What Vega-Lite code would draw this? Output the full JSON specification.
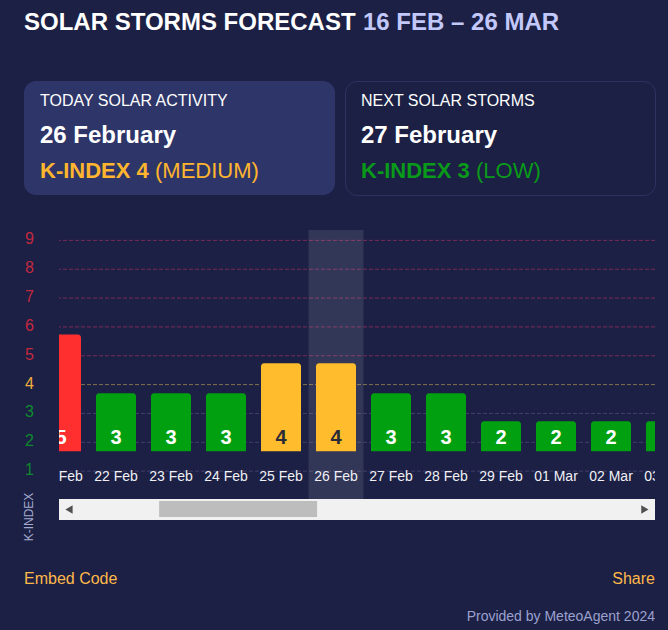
{
  "$schema": "https://vega.github.io/schema/vega-lite/v6.json",
  "background": "#1b2044",
  "padding": {"left": 23, "top": 0, "right": 13, "bottom": 0},
  "config": {
    "font": "Liberation Sans",
    "view": {"stroke": null}
  },
  "datasets": {
    "kindex": [
      {"date": "21 Feb", "k": 5, "top": 5.74},
      {"date": "22 Feb", "k": 3, "top": 3.7},
      {"date": "23 Feb", "k": 3, "top": 3.7},
      {"date": "24 Feb", "k": 3, "top": 3.7},
      {"date": "25 Feb", "k": 4, "top": 4.74},
      {"date": "26 Feb", "k": 4, "top": 4.74},
      {"date": "27 Feb", "k": 3, "top": 3.7},
      {"date": "28 Feb", "k": 3, "top": 3.7},
      {"date": "29 Feb", "k": 2, "top": 2.73},
      {"date": "01 Mar", "k": 2, "top": 2.73},
      {"date": "02 Mar", "k": 2, "top": 2.73},
      {"date": "03 Mar", "k": 2, "top": 2.73}
    ],
    "levels": [
      {"level": 1}, {"level": 2}, {"level": 3}, {"level": 4}, {"level": 5},
      {"level": 6}, {"level": 7}, {"level": 8}, {"level": 9}
    ],
    "heading": [
      {"part": "name", "text": "SOLAR STORMS FORECAST"},
      {"part": "range", "text": "16 FEB – 26 MAR"}
    ],
    "credits": [
      {"side": "left", "row": "links", "kind": "link", "text": "Embed Code"},
      {"side": "right", "row": "links", "kind": "link", "text": "Share"},
      {"side": "right", "row": "credit", "kind": "credit", "text": "Provided by MeteoAgent 2024"}
    ]
  },
  "vconcat": [
    {
      "vconcat": [
        {
          "width": 631,
          "height": 46,
          "data": {"name": "heading"},
          "mark": {"type": "text", "align": "left", "fontSize": 24, "fontWeight": "bold", "dy": 0},
          "encoding": {
            "x": {"field": "part", "type": "nominal", "axis": null, "scale": {"type": "point", "padding": 0, "domain": ["name", "range"], "range": [0, 339]}},
            "text": {"field": "text"},
            "color": {"condition": {"test": "datum.part === 'range'", "value": "#c3c8fa"}, "value": "#ffffff"}
          }
        },
        {
          "hconcat": [
            {
              "width": 311,
              "height": 114,
              "view": {"fill": "#2e3569", "stroke": null, "cornerRadius": 12},
              "data": {"values": [{"label": "TODAY SOLAR ACTIVITY", "date": "26 February", "level": "K-INDEX 4", "note": "(MEDIUM)"}]},
              "encoding": {"x": {"datum": 0, "axis": null, "scale": {"domain": [0, 1]}}},
              "layer": [
                {"mark": {"type": "text", "align": "left", "dx": 16, "dy": -37, "fontSize": 16, "color": "#ffffff"}, "encoding": {"text": {"field": "label"}}},
                {"mark": {"type": "text", "align": "left", "dx": 16, "dy": -2, "fontSize": 24, "fontWeight": "bold", "color": "#ffffff"}, "encoding": {"text": {"field": "date"}}},
                {"mark": {"type": "text", "align": "left", "dx": 16, "dy": 33, "fontSize": 22, "fontWeight": "bold", "color": "#ffb52e"}, "encoding": {"text": {"field": "level"}}},
                {"mark": {"type": "text", "align": "left", "dx": 131, "dy": 33, "fontSize": 22, "color": "#ffb52e"}, "encoding": {"text": {"field": "note"}}}
              ]
            },
            {
              "width": 310,
              "height": 114,
              "view": {"fill": "#1b2044", "stroke": "#2e3263", "cornerRadius": 12},
              "data": {"values": [{"label": "NEXT SOLAR STORMS", "date": "27 February", "level": "K-INDEX 3", "note": "(LOW)"}]},
              "encoding": {"x": {"datum": 0, "axis": null, "scale": {"domain": [0, 1]}}},
              "layer": [
                {"mark": {"type": "text", "align": "left", "dx": 16, "dy": -37, "fontSize": 16, "color": "#ffffff"}, "encoding": {"text": {"field": "label"}}},
                {"mark": {"type": "text", "align": "left", "dx": 16, "dy": -2, "fontSize": 24, "fontWeight": "bold", "color": "#ffffff"}, "encoding": {"text": {"field": "date"}}},
                {"mark": {"type": "text", "align": "left", "dx": 16, "dy": 33, "fontSize": 22, "fontWeight": "bold", "color": "#0a9a1a"}, "encoding": {"text": {"field": "level"}}},
                {"mark": {"type": "text", "align": "left", "dx": 131, "dy": 33, "fontSize": 22, "color": "#0a9a1a"}, "encoding": {"text": {"field": "note"}}}
              ]
            }
          ],
          "spacing": 9
        },
        {
          "hconcat": [
            {
              "width": 34,
              "height": 314,
              "encoding": {"x": {"datum": 0.16, "axis": null, "scale": {"domain": [0, 1]}}},
              "layer": [
                {
                  "data": {"name": "levels"},
                  "mark": {"type": "text", "fontSize": 16, "dy": -1},
                  "encoding": {
                    "y": {"field": "level", "type": "quantitative", "axis": null, "scale": {"domain": [-1.526, 9.36], "nice": false, "zero": false}},
                    "text": {"field": "level"},
                    "color": {"condition": [{"test": "datum.level >= 5", "value": "#c4283f"}, {"test": "datum.level == 4", "value": "#f0ad3e"}], "value": "#0f8a2c"}
                  }
                },
                {
                  "data": {"values": [{"name": "K-INDEX", "at": -0.59}]},
                  "mark": {"type": "text", "fontSize": 12, "angle": 270, "color": "#a4a9d0"},
                  "encoding": {
                    "y": {"field": "at", "type": "quantitative", "axis": null},
                    "text": {"field": "name"}
                  }
                }
              ]
            },
            {
              "width": 596,
              "height": 314,
              "resolve": {"scale": {"x": "independent"}},
              "layer": [
                {
                  "data": {"name": "levels"},
                  "mark": {"type": "rule", "strokeDash": [4, 2], "strokeWidth": 1},
                  "encoding": {
                    "y": {"field": "level", "type": "quantitative", "axis": null, "scale": {"domain": [-1.526, 9.36], "nice": false, "zero": false}},
                    "color": {"condition": [{"test": "datum.level >= 5", "value": "#7a2a58"}, {"test": "datum.level == 4", "value": "#85704f"}], "value": "#433f6b"}
                  }
                },
                {
                  "data": {"name": "kindex"},
                  "layer": [
                    {
                      "transform": [{"filter": "datum.date === '26 Feb'"}],
                      "mark": {"type": "rect", "color": "#ffffff", "opacity": 0.1, "clip": true},
                      "encoding": {
                        "x": {"field": "date", "type": "nominal", "sort": null, "axis": null, "scale": {"type": "band", "domain": ["21 Feb", "22 Feb", "23 Feb", "24 Feb", "25 Feb", "26 Feb", "27 Feb", "28 Feb", "29 Feb", "01 Mar", "02 Mar", "03 Mar"], "range": [-25.5, 634.5], "paddingInner": 0, "paddingOuter": 0}},
                        "y": {"datum": 9.36, "type": "quantitative", "axis": null},
                        "y2": {"datum": 0.03}
                      }
                    },
                    {
                      "mark": {"type": "bar", "width": 40, "cornerRadiusTopLeft": 3, "cornerRadiusTopRight": 3, "clip": true},
                      "encoding": {
                        "x": {"field": "date", "type": "nominal", "sort": null, "axis": null},
                        "y": {"field": "top", "type": "quantitative", "axis": null},
                        "y2": {"datum": 1.69},
                        "color": {"field": "k", "type": "nominal", "legend": null, "scale": {"domain": [2, 3, 4, 5], "range": ["#00a010", "#00a010", "#ffbc2c", "#ff2f2f"]}}
                      }
                    },
                    {
                      "mark": {"type": "text", "fontSize": 20, "fontWeight": "bold", "clip": true},
                      "encoding": {
                        "x": {"field": "date", "type": "nominal", "sort": null, "axis": null},
                        "y": {"datum": 2.15, "type": "quantitative", "axis": null},
                        "text": {"field": "k"},
                        "color": {"condition": {"test": "datum.k == 4", "value": "#2b2b38"}, "value": "#ffffff"}
                      }
                    },
                    {
                      "mark": {"type": "text", "fontSize": 14, "color": "#f0f0f5", "clip": true},
                      "encoding": {
                        "x": {"field": "date", "type": "nominal", "sort": null, "axis": null},
                        "y": {"datum": 0.79, "type": "quantitative", "axis": null},
                        "text": {"field": "date"}
                      }
                    }
                  ]
                },
                {
                  "data": {"values": [{"trackStart": 0, "trackEnd": 1, "thumbStart": 0.168, "thumbEnd": 0.433, "back": 0.0168, "forward": 0.983}]},
                  "layer": [
                    {
                      "mark": {"type": "rect", "color": "#f1f1f1"},
                      "encoding": {
                        "x": {"field": "trackStart", "type": "quantitative", "axis": null, "scale": {"domain": [0, 1], "nice": false, "zero": false}},
                        "x2": {"field": "trackEnd"},
                        "y": {"datum": 0.031, "type": "quantitative", "axis": null},
                        "y2": {"datum": -0.696}
                      }
                    },
                    {
                      "mark": {"type": "rect", "color": "#bdbdbd"},
                      "encoding": {
                        "x": {"field": "thumbStart", "type": "quantitative", "axis": null},
                        "x2": {"field": "thumbEnd"},
                        "y": {"datum": -0.038, "type": "quantitative", "axis": null},
                        "y2": {"datum": -0.592}
                      }
                    },
                    {
                      "mark": {"type": "point", "shape": "triangle-left", "filled": true, "size": 70, "color": "#505050", "opacity": 1},
                      "encoding": {
                        "x": {"field": "back", "type": "quantitative", "axis": null},
                        "y": {"datum": -0.33, "type": "quantitative", "axis": null}
                      }
                    },
                    {
                      "mark": {"type": "point", "shape": "triangle-right", "filled": true, "size": 70, "color": "#505050", "opacity": 1},
                      "encoding": {
                        "x": {"field": "forward", "type": "quantitative", "axis": null},
                        "y": {"datum": -0.33, "type": "quantitative", "axis": null}
                      }
                    }
                  ]
                }
              ]
            }
          ],
          "spacing": 0
        }
      ],
      "spacing": 34
    },
    {
      "width": 631,
      "height": 66,
      "data": {"name": "credits"},
      "encoding": {
        "x": {"field": "side", "type": "nominal", "axis": null, "scale": {"type": "point", "padding": 0, "domain": ["left", "right"], "range": [0, 631]}},
        "y": {"field": "row", "type": "nominal", "axis": null, "scale": {"type": "point", "padding": 0, "domain": ["links", "credit"], "range": [15, 53]}},
        "text": {"field": "text"}
      },
      "layer": [
        {
          "transform": [{"filter": "datum.side === 'left'"}],
          "mark": {"type": "text", "align": "left", "fontSize": 16, "color": "#ffb84a"}
        },
        {
          "transform": [{"filter": "datum.side === 'right' && datum.kind === 'link'"}],
          "mark": {"type": "text", "align": "right", "fontSize": 16, "color": "#ffb84a"}
        },
        {
          "transform": [{"filter": "datum.kind === 'credit'"}],
          "mark": {"type": "text", "align": "right", "fontSize": 14, "color": "#9ba1cf"}
        }
      ]
    }
  ],
  "spacing": 20
}
